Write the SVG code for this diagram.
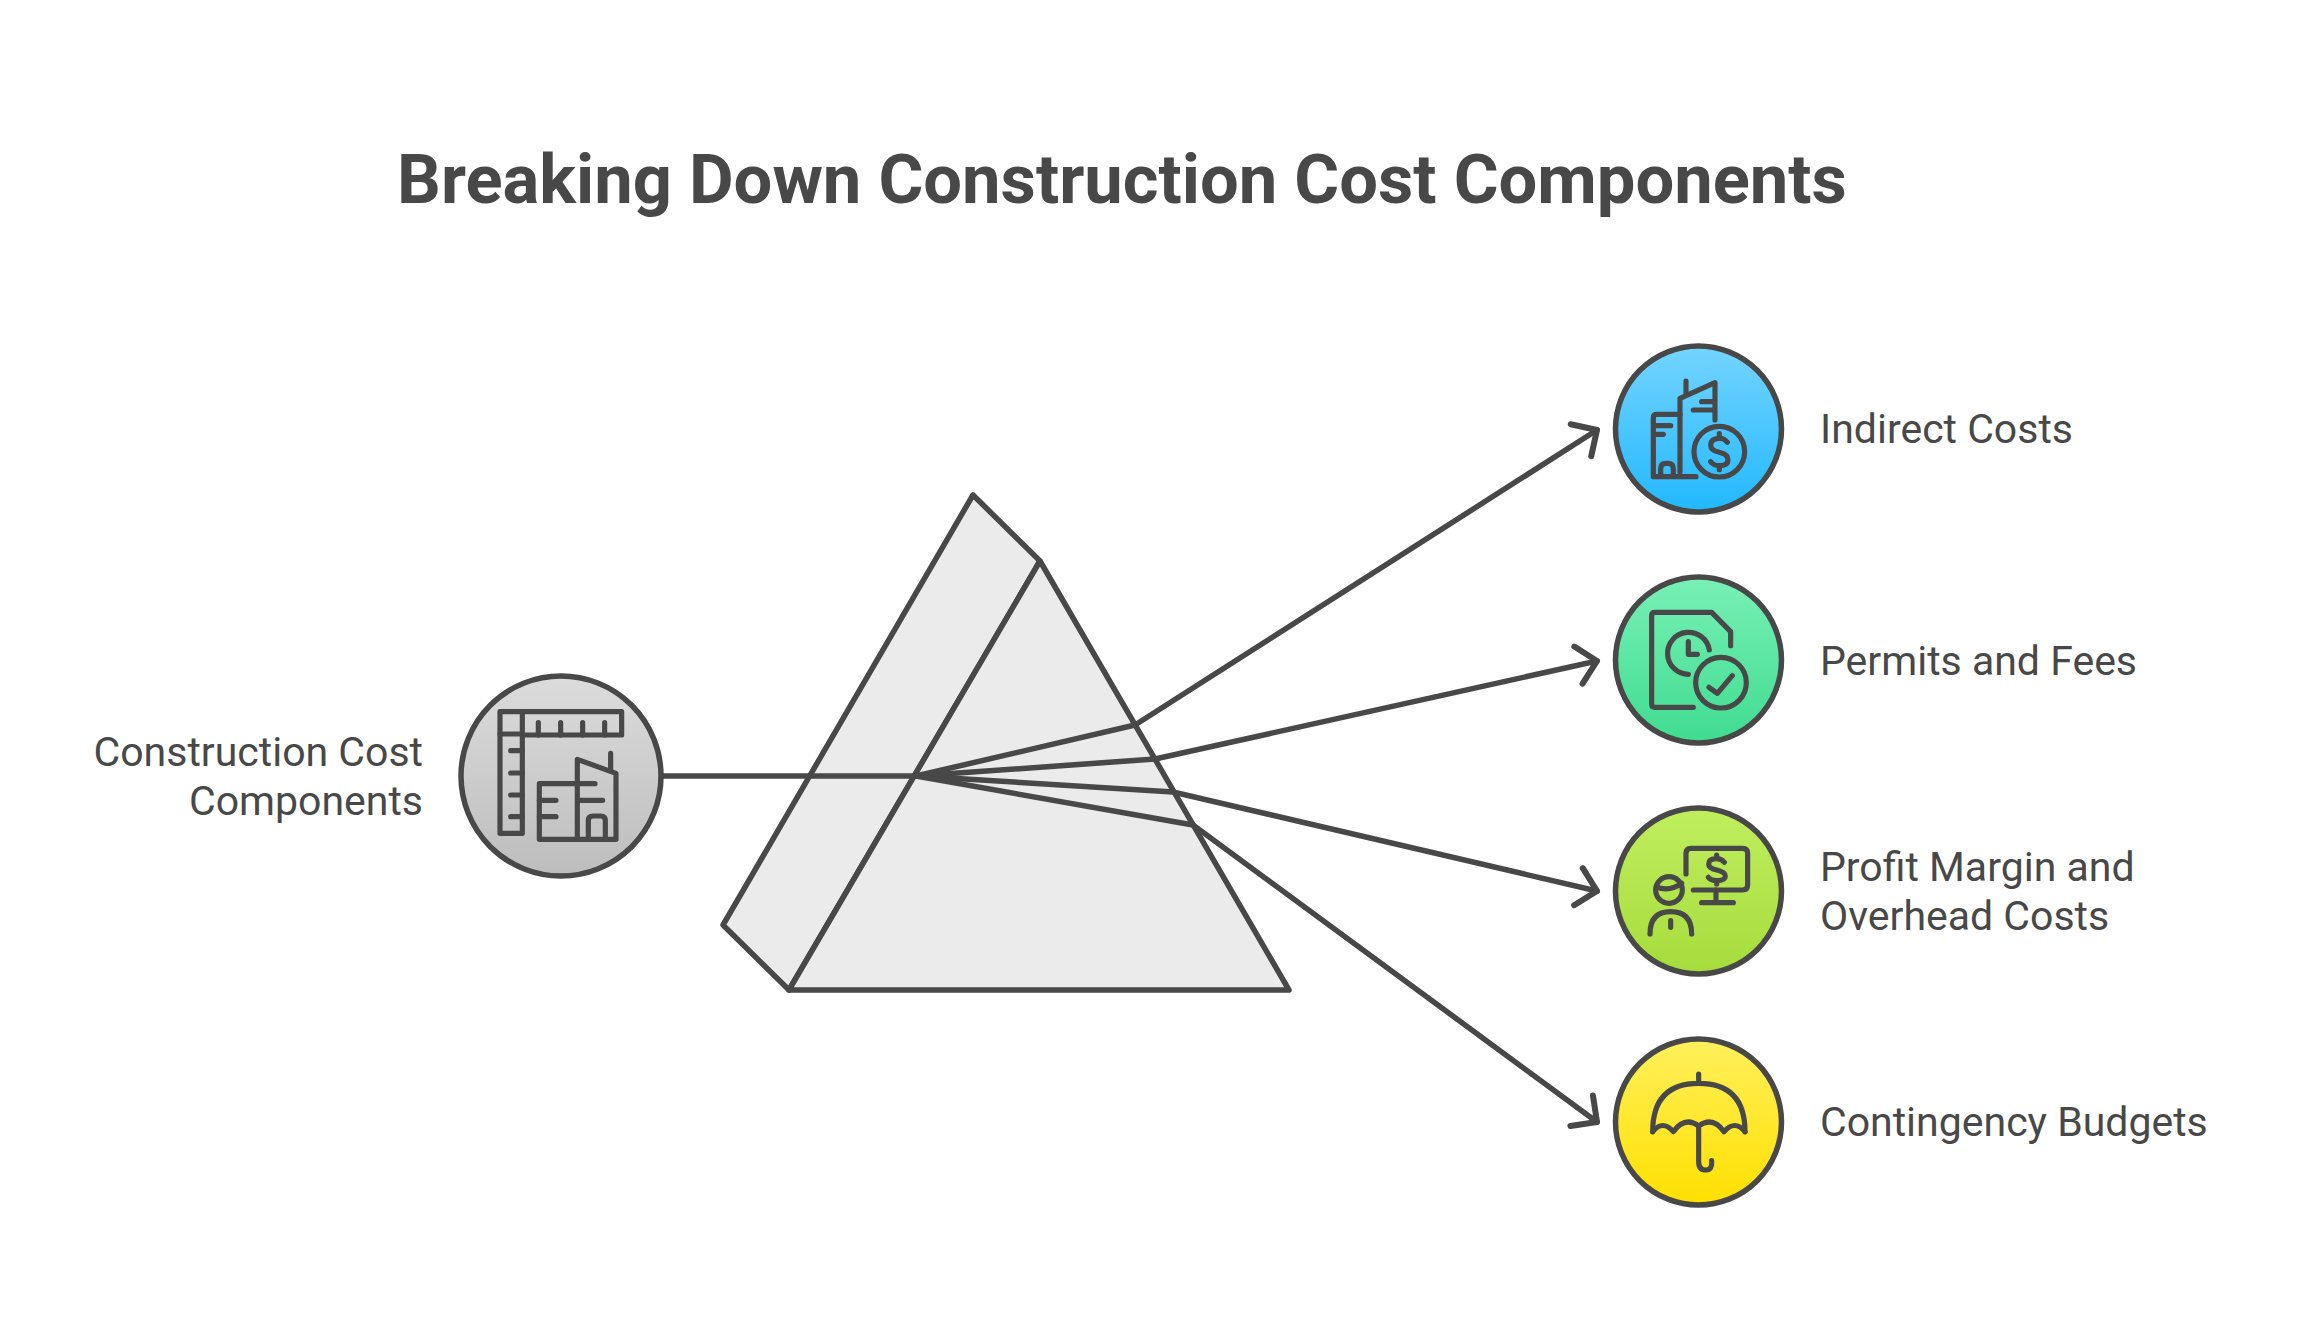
<svg xmlns="http://www.w3.org/2000/svg" width="2309" height="1337" viewBox="0 0 2309 1337">
<style>
text{font-family:Roboto,"Liberation Sans",sans-serif;fill:#484848}
.t{font-size:68.7px;font-weight:700}
.l{font-size:41px;font-weight:400}
.c{stroke:#484848;stroke-width:5.5}
.i{fill:none;stroke:#484848;stroke-width:15.5;stroke-linecap:round;stroke-linejoin:round}
.p{fill:#ebebeb;stroke:#484848;stroke-width:5.5;stroke-linejoin:round}
.k{fill:none;stroke:#484848;stroke-width:5.5;stroke-linecap:round;stroke-linejoin:round}
</style>
<defs>
<linearGradient id="g0" x1="0" y1="0" x2="0" y2="1"><stop offset="0" stop-color="#dcdcdc"/><stop offset="1" stop-color="#bdbdbd"/></linearGradient>
<linearGradient id="g1" x1="0" y1="0" x2="0" y2="1"><stop offset="0" stop-color="#74d4ff"/><stop offset="1" stop-color="#22b8ff"/></linearGradient>
<linearGradient id="g2" x1="0" y1="0" x2="0" y2="1"><stop offset="0" stop-color="#78f0b6"/><stop offset="1" stop-color="#40dc90"/></linearGradient>
<linearGradient id="g3" x1="0" y1="0" x2="0" y2="1"><stop offset="0" stop-color="#c0ee5e"/><stop offset="1" stop-color="#a6dc3c"/></linearGradient>
<linearGradient id="g4" x1="0" y1="0" x2="0" y2="1"><stop offset="0" stop-color="#fff05c"/><stop offset="1" stop-color="#ffe000"/></linearGradient>
<marker id="a" markerUnits="userSpaceOnUse" markerWidth="44" markerHeight="48" refX="30" refY="24" orient="auto"><path d="M11 5L30 24L11 43" fill="none" stroke="#484848" stroke-width="6" stroke-linecap="round" stroke-linejoin="round"/></marker>
</defs>
<text class="t" x="1122" y="203" text-anchor="middle">Breaking Down Construction Cost Components</text>
<g id="prism">
<path class="p" d="M973 495L1040 561L789 990L723 925Z"/>
<path class="p" d="M1040 561L1289 990H789Z"/>
</g>
<g id="connectors">
<path class="c" fill="none" d="M662 776H916"/>
<polyline class="k" points="916,776 1135,725 1597,430" marker-end="url(#a)"/>
<polyline class="k" points="916,776 1155,759 1597,661" marker-end="url(#a)"/>
<polyline class="k" points="916,776 1173,792 1597,891" marker-end="url(#a)"/>
<polyline class="k" points="916,776 1193,825 1597,1122" marker-end="url(#a)"/>
</g>
<g id="source">
<circle cx="561" cy="776" r="100" fill="url(#g0)" class="c"/>
<g transform="translate(440 660) scale(.3333)" class="i">
<path d="M180 155H545V225H247V520H180Z"/><path d="M180 222H247V155"/>
<path d="M295 188V225M362 188V225M428 188V225M494 188V225M212 272H247M212 339H247M212 405H247M212 470H247"/>
<path d="M412 371H298V538H528V340L412 298V538"/><path d="M512 280V330M412 371H465M298 421H348M298 470H348M420 421H488"/>
<path d="M445 530V482Q445 468 459 468H482Q496 468 496 482V530"/>
</g>
<text class="l" text-anchor="end"><tspan x="423" y="766">Construction Cost</tspan><tspan x="423" y="815">Components</tspan></text>
</g>
<g id="indirect">
<circle cx="1698.5" cy="429" r="83" fill="url(#g1)" class="c"/>
<g transform="translate(1600 335) scale(.3333)" class="i">
<path d="M288 425H160V248Q160 238 170 238H240V410"/><path d="M165 272H212M165 298H190"/>
<path d="M182 420V402Q182 385 198 385H204Q220 385 220 402V420"/>
<path d="M240 238V190L345 143V255M258 138V175M280 225H345M305 200H345"/>
<circle cx="358" cy="350" r="76"/>
<path d="M382 322Q372 308 355 310Q332 312 332 330Q332 347 358 352Q384 358 384 375Q384 392 358 392Q340 392 332 380M358 296V310M358 392V404"/>
</g>
<text class="l" x="1820" y="443">Indirect Costs</text>
</g>
<g id="permits">
<circle cx="1698.5" cy="660" r="83" fill="url(#g2)" class="c"/>
<g transform="translate(1600 565) scale(.3333)" class="i">
<path d="M280 427H165Q155 427 155 417V152Q155 142 165 142H335L392 200V242"/>
<path d="M328 255A63 63 0 1 0 265 328"/><path d="M265 230V268H292"/>
<circle cx="363" cy="353" r="76"/><path d="M327 367L352 385L397 332"/>
</g>
<text class="l" x="1820" y="675">Permits and Fees</text>
</g>
<g id="profit">
<circle cx="1698.5" cy="891" r="83" fill="url(#g3)" class="c"/>
<g transform="translate(1600 800) scale(.3333)" class="i">
<path d="M258 222V160Q258 145 273 145H428Q443 145 443 160V255Q443 270 428 270H280"/>
<path d="M348 270V308M305 308H400"/>
<path d="M373 187Q365 176 350 176Q326 176 326 192Q326 205 350 210Q376 216 376 228Q376 242 350 242Q332 242 325 232M350 165V176M350 242V252"/>
<circle cx="207" cy="270" r="40"/><path d="M170 262Q210 275 245 250"/>
<path d="M150 402Q150 335 212 335Q275 335 275 402M212 362V382"/>
</g>
<text class="l" x="1820" y="881"><tspan>Profit Margin and</tspan><tspan x="1820" y="930">Overhead Costs</tspan></text>
</g>
<g id="contingency">
<circle cx="1698.5" cy="1122" r="83" fill="url(#g4)" class="c"/>
<g transform="translate(1600 1030) scale(.3333)" class="i">
<path d="M158 305Q158 160 296 160Q435 160 435 305M296 132V160"/>
<path d="M158 305Q188 268 220 305Q255 258 296 288Q338 258 372 305Q405 268 435 305"/>
<path d="M296 288V395Q296 420 318 420Q338 420 335 392"/>
</g>
<text class="l" x="1820" y="1136">Contingency Budgets</text>
</g>
</svg>
